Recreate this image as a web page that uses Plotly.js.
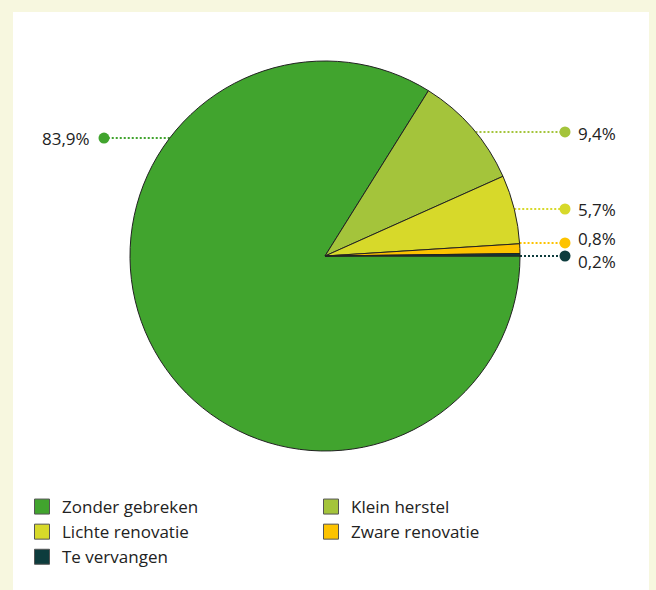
<!DOCTYPE html>
<html>
<head>
<meta charset="utf-8">
<script src="https://cdn.plot.ly/plotly-3.0.1.min.js"></script>
<style>html,body{margin:0;padding:0;background:#f7f7df;}</style>
</head>
<body>
<div id="chart" style="width:656px;height:590px;"></div>
<script>
// ---- data ----
const categories = ['Zonder gebreken', 'Klein herstel', 'Lichte renovatie', 'Zware renovatie', 'Te vervangen'];
const shares = [83.9, 9.4, 5.7, 0.8, 0.2];
const valueLabels = ['83,9%', '9,4%', '5,7%', '0,8%', '0,2%'];

// ---- style / layout constants ----
const colors = ['#41a42e', '#a4c43b', '#d7d92a', '#fdc300', '#0d3c3d'];
const W = 656, H = 590;
const cx = 325, cy = 256, R = 195;           // pie centre and radius (px)
const labelSide = [-1, 1, 1, 1, 1];          // -1 left, 1 right
const labelY = [0.605, 0.636, 0.241, 0.067, 0.0]; // leader height (radius units)
const markerXRight = (565 - cx) / R, markerXLeft = (104 - cx) / R;
const textYShift = [0, -2, 0, 4, -5];
const FONT = 'Open Sans, Noto Sans, sans-serif';

const traces = [];
traces.push({
  type: 'pie',
  labels: categories,
  values: shares,
  sort: false,
  direction: 'clockwise',
  rotation: 90,
  textinfo: 'none',
  hoverinfo: 'label+percent',
  showlegend: false,
  marker: {colors: colors, line: {color: '#222', width: 1}},
  domain: {x: [(cx - R) / W, (cx + R) / W], y: [(H - cy - R) / H, (H - cy + R) / H]}
});

const annotations = [];
categories.forEach((c, i) => {
  const y = labelY[i];
  const edgeX = labelSide[i] * Math.sqrt(1 - y * y);
  const mx = labelSide[i] > 0 ? markerXRight : markerXLeft;
  traces.push({
    type: 'scatter', mode: 'lines', x: [edgeX, mx], y: [y, y],
    line: {color: colors[i], width: 2, dash: '2px,2px'},
    hoverinfo: 'skip', showlegend: false
  });
  traces.push({
    type: 'scatter', mode: 'markers', x: [mx], y: [y],
    marker: {color: colors[i], size: 11},
    hoverinfo: 'skip', showlegend: false
  });
  annotations.push({
    x: mx, y: y, xref: 'x', yref: 'y', text: valueLabels[i], showarrow: false,
    xanchor: labelSide[i] > 0 ? 'left' : 'right', yanchor: 'middle',
    xshift: labelSide[i] > 0 ? 11 : -12, yshift: textYShift[i],
    font: {family: FONT, size: 17, color: '#222'}
  });
});

// legend entries
categories.forEach((c, i) => {
  traces.push({
    type: 'scatter', mode: 'markers', x: [null], y: [null], name: c,
    marker: {symbol: 'square', size: 15, color: colors[i], line: {color: '#555', width: 1}},
    showlegend: true, hoverinfo: 'skip'
  });
});

const layout = {
  width: W, height: H,
  margin: {l: 0, r: 0, t: 0, b: 0, autoexpand: false},
  paper_bgcolor: '#f7f7df',
  plot_bgcolor: 'rgba(0,0,0,0)',
  font: {family: FONT, color: '#222'},
  xaxis: {domain: [0, 1], range: [-cx / R, (W - cx) / R], visible: false, fixedrange: true},
  yaxis: {domain: [0, 1], range: [-(H - cy) / R, cy / R], visible: false, fixedrange: true},
  showlegend: true,
  legend: {
    orientation: 'h', x: 22 / W, xanchor: 'left', y: 1 - 489 / H, yanchor: 'top',
    entrywidth: 244, entrywidthmode: 'pixels',
    font: {family: FONT, size: 17, color: '#222'},
    bgcolor: 'rgba(0,0,0,0)', itemclick: false, itemdoubleclick: false
  },
  shapes: [{
    type: 'rect', xref: 'paper', yref: 'paper', layer: 'below',
    x0: 13 / W, x1: 649 / W, y0: 0, y1: 1 - 12 / H,
    fillcolor: '#ffffff', line: {width: 0}
  }],
  annotations: annotations
};

Plotly.newPlot('chart', traces, layout, {displayModeBar: false, staticPlot: true});
</script>
</body>
</html>
